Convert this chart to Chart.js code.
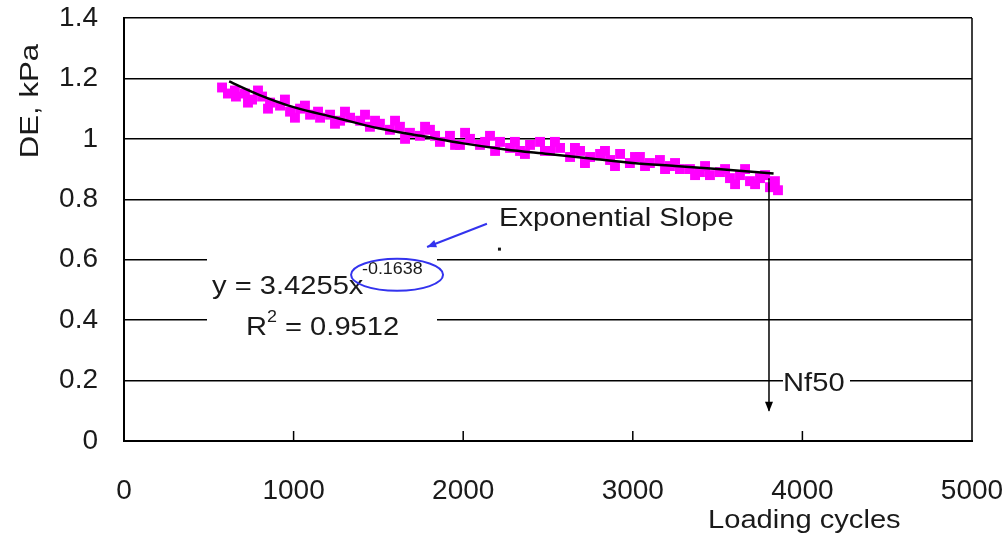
<!DOCTYPE html>
<html>
<head>
<meta charset="utf-8">
<script src="https://cdn.jsdelivr.net/npm/chart.js@4"></script>
<style>
  body { margin: 0; background: #fff; }
  #wrap { width: 1008px; height: 539px; }
</style>
</head>
<body>
<div id="wrap"><canvas id="myChart" width="1008" height="539"></canvas></div>
<script>
// measured DE values (magenta squares)
const cycles = [578, 613, 660, 713, 755, 814, 861, 920, 979, 1038,
  1097, 1156, 1215, 1274, 1333, 1392, 1450, 1509, 1568, 1627,
  1686, 1745, 1804, 1863, 1922, 1981, 2040, 2099, 2158, 2217,
  2276, 2335, 2394, 2453, 2512, 2571, 2630, 2689, 2748, 2807,
  2866, 2925, 2983, 3042, 3101, 3160, 3219, 3278, 3337, 3396,
  3455, 3514, 3573, 3632, 3691, 3750, 3809, 3838,
  654, 731, 790, 849, 949, 1008, 1067, 1144, 1244, 1303,
  1421, 1480, 1598, 1657, 1775, 1834, 1952, 2011, 2129, 2188,
  2305, 2364, 2482, 2541, 2659, 2718, 2836, 2895, 3013, 3072,
  3190, 3249, 3367, 3426, 3544, 3603, 3662, 3721, 3780, 3856];
const deValues = [1.17, 1.15, 1.14, 1.15, 1.13, 1.14, 1.12, 1.11, 1.09, 1.10,
  1.08, 1.07, 1.08, 1.06, 1.07, 1.06, 1.04, 1.05, 1.03, 1.04,
  1.02, 1.01, 1.03, 0.99, 1.01, 0.98, 1.00, 0.98, 1.01, 0.99,
  0.97, 0.96, 0.98, 0.99, 0.96, 0.97, 0.94, 0.96, 0.94, 0.95,
  0.93, 0.95, 0.92, 0.94, 0.92, 0.93, 0.91, 0.90, 0.90, 0.89,
  0.88, 0.89, 0.87, 0.88, 0.86, 0.87, 0.84, 0.86,
  1.16, 1.12, 1.16, 1.10, 1.13, 1.07, 1.11, 1.09, 1.05, 1.09,
  1.08, 1.06, 1.06, 1.00, 1.04, 1.01, 0.98, 1.02, 0.99, 0.96,
  0.99, 0.95, 0.96, 0.99, 0.97, 0.92, 0.96, 0.91, 0.94, 0.91,
  0.90, 0.92, 0.88, 0.91, 0.90, 0.85, 0.90, 0.85, 0.88, 0.83];

// power trendline
const trendCycles = [620, 800, 1000, 1250, 1500, 1750, 2000, 2250, 2500, 2750, 3000, 3250, 3500, 3830];
const trendValues = [1.19, 1.145, 1.105, 1.07, 1.035, 1.01, 0.985, 0.965, 0.95, 0.935, 0.92, 0.91, 0.90, 0.885];

const xTicks = [0, 1000, 2000, 3000, 4000, 5000];
const yTicks = [0, 0.2, 0.4, 0.6, 0.8, 1, 1.2, 1.4];
const nf50 = 3803;

const FONT = '"Liberation Sans", Arial, sans-serif';

// text a bit wider than the font, like the original
function wideText(c, txt, x, y, size) {
  c.save();
  c.font = size + 'px ' + FONT;
  c.translate(x, y);
  c.scale(1.12, 1);
  c.fillText(txt, 0, 0);
  const w = c.measureText(txt).width * 1.12;
  c.restore();
  return w;
}

const extras = {
  id: 'extras',
  afterDatasetsDraw(chart) {
    const c = chart.ctx;
    const xs = chart.scales.x, ys = chart.scales.y;
    const a = chart.chartArea;
    const px = v => xs.getPixelForValue(v);
    const py = v => ys.getPixelForValue(v);
    c.save();

    // frame right side + inner ticks on x axis
    c.strokeStyle = '#000';
    c.lineWidth = 1.5;
    c.beginPath();
    c.moveTo(a.right, a.top); c.lineTo(a.right, a.bottom);
    xTicks.slice(1, -1).forEach(t => {
      c.moveTo(px(t), a.bottom); c.lineTo(px(t), a.bottom - 10);
    });
    c.stroke();

    // white boxes behind the labels
    c.fillStyle = '#fff';
    c.fillRect(207, py(0.6) - 4, 230, 8);
    c.fillRect(207, py(0.4) - 4, 230, 8);
    c.fillRect(783, py(0.2) - 4, 67, 8);

    c.fillStyle = '#1a1a1a';
    c.textBaseline = 'middle';
    wideText(c, 'y = 3.4255x', px(519), py(0.51), 26);
    wideText(c, '-0.1638', px(1403), py(0.566), 16);
    let x0 = px(719);
    x0 += wideText(c, 'R', x0, py(0.374), 26);
    x0 += wideText(c, '2', x0, py(0.374) - 10, 16);
    wideText(c, ' = 0.9512', x0, py(0.374), 26);
    wideText(c, 'Exponential Slope', px(2211), py(0.735), 26);
    wideText(c, 'Nf50', px(3886), py(0.19), 26);
    c.fillRect(px(2205), py(0.64), 3, 3);

    // ellipse round the exponent
    c.strokeStyle = '#3333ee';
    c.lineWidth = 2;
    c.beginPath();
    c.ellipse(px(1610), py(0.55), 46, 16, 0, 0, Math.PI * 2);
    c.stroke();

    // blue arrow
    const x1 = px(2140), y1 = py(0.719), x2 = px(1787), y2 = py(0.642);
    c.beginPath(); c.moveTo(x1, y1); c.lineTo(x2, y2); c.stroke();
    let ang = Math.atan2(y2 - y1, x2 - x1);
    c.fillStyle = '#3333ee';
    c.beginPath();
    c.moveTo(x2, y2);
    c.lineTo(x2 - 10 * Math.cos(ang - 0.4), y2 - 10 * Math.sin(ang - 0.4));
    c.lineTo(x2 - 10 * Math.cos(ang + 0.4), y2 - 10 * Math.sin(ang + 0.4));
    c.fill();

    // Nf50 arrow down
    c.strokeStyle = '#000';
    c.fillStyle = '#000';
    c.lineWidth = 1.5;
    c.beginPath(); c.moveTo(px(nf50), py(0.87)); c.lineTo(px(nf50), py(0.1)); c.stroke();
    c.beginPath();
    c.moveTo(px(nf50), py(0.1) + 1);
    c.lineTo(px(nf50) - 4, py(0.1) - 9);
    c.lineTo(px(nf50) + 4, py(0.1) - 9);
    c.fill();

    // axis titles
    c.fillStyle = '#1a1a1a';
    wideText(c, 'Loading cycles', 708, 521, 26);
    c.translate(31, 101);
    c.rotate(-Math.PI / 2);
    c.font = '26px ' + FONT;
    c.scale(1.2, 1);
    c.textAlign = 'center';
    c.fillText('DE, kPa', 0, 0);
    c.restore();
  }
};

const ctx = document.getElementById('myChart').getContext('2d');
new Chart(ctx, {
  type: 'scatter',
  data: {
    datasets: [{
      label: 'DE',
      data: cycles.map((x, i) => ({ x: x, y: deValues[i] })),
      pointStyle: 'rect',
      radius: 7,
      backgroundColor: '#ff00ff',
      borderColor: '#ff00ff',
      borderWidth: 0,
      order: 2
    }, {
      label: 'Trend',
      type: 'line',
      data: trendCycles.map((x, i) => ({ x: x, y: trendValues[i] })),
      borderColor: '#000',
      borderWidth: 2.5,
      pointRadius: 0,
      cubicInterpolationMode: 'monotone',
      order: 1
    }]
  },
  options: {
    responsive: false,
    animation: false,
    layout: { padding: { top: 18, right: 36, left: 0, bottom: 0 } },
    plugins: { legend: { display: false }, tooltip: { enabled: false } },
    scales: {
      x: {
        min: 0, max: 5000,
        afterBuildTicks: s => { s.ticks = xTicks.map(v => ({ value: v })); },
        afterFit: s => { s.height = 98; s.paddingLeft = 0; s.paddingRight = 0; },
        grid: { display: false, drawTicks: false },
        border: { display: true, color: '#000', width: 2 },
        ticks: { padding: 33, color: '#1a1a1a', font: { family: FONT, size: 28 },
          callback: v => String(v) }
      },
      y: {
        min: 0, max: 1.4,
        afterBuildTicks: s => { s.ticks = yTicks.map(v => ({ value: v })); },
        afterFit: s => { s.width = 124; s.paddingTop = 0; s.paddingBottom = 0; },
        grid: { color: '#000', lineWidth: 1.5, drawTicks: false },
        border: { display: true, color: '#000', width: 2 },
        ticks: { padding: 26, color: '#1a1a1a', font: { family: FONT, size: 28 },
          callback: v => String(v) }
      }
    }
  },
  plugins: [extras]
});
</script>
</body>
</html>
